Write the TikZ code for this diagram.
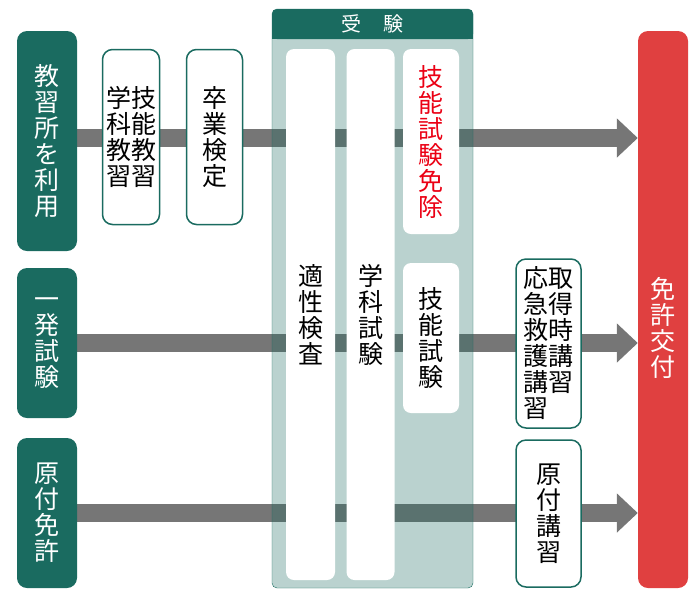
\documentclass[tikz,border=0pt]{standalone}
\usepackage{fontspec}
\setmainfont{Noto Sans CJK JP}
\usetikzlibrary{arrows.meta,backgrounds}
\definecolor{darkteal}{RGB}{26,107,96}
\definecolor{boxred}{RGB}{224,64,64}
\definecolor{txtred}{RGB}{235,0,20}
\definecolor{flowgray}{RGB}{118,118,118}
\begin{document}
\begin{tikzpicture}[x=1pt, y=-1pt, line join=round, font=\fontsize{25}{26}\selectfont,
	startbox/.style={fill=darkteal, text=white, rounded corners=10pt, minimum width=60pt, inner sep=0pt, align=center},
	stepbox/.style={draw=darkteal, line width=1.5pt, fill=white, rounded corners=10pt, inner sep=0pt, align=center},
	examcol/.style={fill=white, rounded corners=8pt, inner sep=0pt, align=center},
	flow/.style={flowgray, line width=18pt, -{Triangle[length=21pt,width=38pt]}}]
	\useasboundingbox (0,0) rectangle (700,598);
	% left: routes
	\node[startbox, minimum height=220pt] (kyoshu) at (47,141) {教\\習\\所\\を\\利\\用};
	\node[startbox, minimum height=150pt] (ippatsu) at (47,343) {一\\発\\試\\験};
	\node[startbox, minimum height=150pt] (gentsuki) at (47,513) {原\\付\\免\\許};
	\node[stepbox, minimum width=57pt, minimum height=175pt] (kyoshu2) at (131,137) {学技\\科能\\教教\\習習};
	\node[stepbox, minimum width=56pt, minimum height=175pt] (sotsugyo) at (214.5,137) {卒\\業\\検\\定};
	% exam panel
	\filldraw[fill=darkteal, fill opacity=.3, draw=darkteal, rounded corners=5pt] (272,9) rectangle (473,588);
	\fill[darkteal] (272,24) rectangle (473,39);
	\node[fill=darkteal, text=white, rounded corners=5pt, minimum width=201pt, minimum height=30pt, inner sep=0pt,
		font=\fontsize{20}{22}\selectfont] (juken) at (372.5,24) {受\hspace{22pt}験};
	\node[examcol, minimum width=49pt, minimum height=531pt] (tekisei) at (310.5,314.5) {適\\性\\検\\査};
	\node[examcol, minimum width=48pt, minimum height=531pt] (gakka) at (370.5,314.5) {学\\科\\試\\験};
	\node[examcol, minimum width=56pt, minimum height=185pt, text=txtred] (ginomen) at (431,141.5) {技\\能\\試\\験\\免\\除};
	\node[examcol, minimum width=56pt, minimum height=150pt] (gino) at (431,338) {技\\能\\試\\験};
	% right
	\node[stepbox, minimum width=65pt, minimum height=169pt] (koshu) at (548.5,343.5)
		{応取\\急得\\救時\\護講\\講習\\習\hphantom{習}};
	\node[stepbox, minimum width=65pt, minimum height=147pt] (genkoshu) at (548.5,513.5) {原\\付\\講\\習};
	\node[fill=boxred, rounded corners=10pt, minimum width=50pt, minimum height=557pt] (menkyo) at (663,309.5) {};
	\node[text=white, align=center, inner sep=0pt] (menkyotxt) at (663,328) {免\\許\\交\\付};
	% arrows
	\begin{scope}[on background layer]
		\coordinate (k) at ([yshift=3pt]kyoshu.east);
		\draw[flow] (k) -- (k -| menkyo.west);
		\foreach \n in {ippatsu,gentsuki} \draw[flow] (\n.east) -- (\n.east -| menkyo.west);
	\end{scope}
\end{tikzpicture}
\end{document}
